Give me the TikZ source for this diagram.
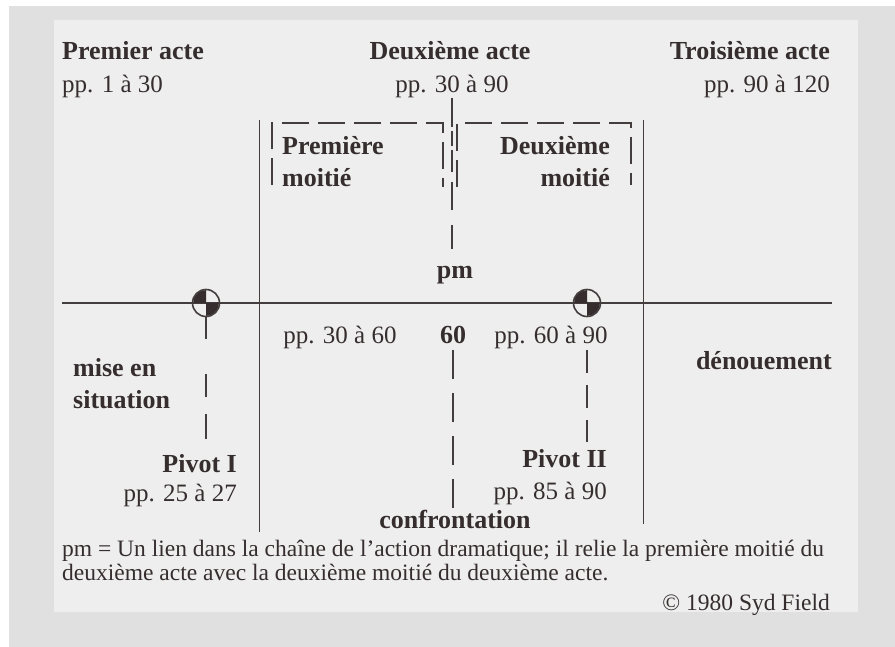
\documentclass[tikz,border=0pt]{standalone}
\usepackage{fontspec}
\setmainfont{Liberation Serif}
\definecolor{ink}{HTML}{362E2E}
\definecolor{lineink}{HTML}{433D3D}
\definecolor{outer}{HTML}{E0E0E0}
\definecolor{paper}{HTML}{EEEEEE}
\tikzset{
  lbl/.style={inner sep=0pt, text=ink, font=\fontsize{25}{32}\selectfont},
  bld/.style={inner sep=0pt, text=ink, font=\fontsize{26}{32}\selectfont\bfseries},
  note/.style={inner sep=0pt, text=ink, font=\fontsize{23.5}{24}\selectfont},
  thinline/.style={draw=lineink, line width=0.9pt},
  solidline/.style={draw=lineink, line width=1.8pt},
  bracketline/.style={draw=lineink, line width=1.8pt, dash pattern=on 27pt off 9pt},
  pivot/.style={circle, draw=lineink, line width=1.6pt, minimum size=27pt, inner sep=0pt},
}
\begin{document}
\begin{tikzpicture}[x=1pt,y=-1pt]
\useasboundingbox (0,0) rectangle (895,647);
% background
\fill[white] (0,0) rectangle (895,647);
\fill[outer] (9,6) rectangle (895,647);
\fill[paper] (54,20) rectangle (858,612);

% top headings
\node[bld, anchor=base west] (a1) at (62,60) {Premier acte};
\node[lbl, anchor=base west] (a1p) at (62,93) {pp. 1 à 30};
\node[bld, anchor=base] (a2) at (450,60) {Deuxième acte};
\node[lbl, anchor=base] (a2p) at (452,93) {pp. 30 à 90};
\node[bld, anchor=base east] (a3) at (830,60) {Troisième acte};
\node[lbl, anchor=base east] (a3p) at (830,93) {pp. 90 à 120};

% half boxes (base = last line)
\node[bld, anchor=base west, align=left] (h1) at (282,187) {Première\\moitié};
\node[bld, anchor=base east, align=right] (h2) at (610,187) {Deuxième\\moitié};
\draw[bracketline] (272,185) -- (272,123) -- (443,123) -- (443,187);
\draw[bracketline] (457,187) -- (457,123) -- (631,123) -- (631,185);

% central link
\node[bld, anchor=base] (pm) at (455,279) {pm};
\coordinate (c0) at (452,98);
\coordinate (c1) at (452,127);
\coordinate (c2) at (452,131);
\coordinate (c3) at (452,249);
\draw[solidline] (c0) -- (c1);
\draw[solidline, dash pattern=on 15pt off 4pt on 22pt off 10pt on 28pt off 15pt on 26pt off 10pt] (c2) -- (c3);

% act boundaries
\coordinate (v1t) at (259,120);
\coordinate (v1b) at (259,532);
\coordinate (v2t) at (643,120);
\coordinate (v2b) at (643,524);
\draw[thinline] (v1t) -- (v1b);
\draw[thinline] (v2t) -- (v2b);

% time line
\coordinate (hl) at (62,303);
\coordinate (hr) at (832,303);
\draw[thinline, line width=1.1pt] (hl) -- (hr);

% pivots
\coordinate (p1c) at (206,303);
\coordinate (p2c) at (587,303);
\fill[ink] (p1c) -- ++(-13,0) arc[start angle=180, end angle=270, radius=13] -- cycle;
\fill[ink] (p1c) -- ++(13,0) arc[start angle=0, end angle=90, radius=13] -- cycle;
\fill[ink] (p2c) -- ++(-13,0) arc[start angle=180, end angle=270, radius=13] -- cycle;
\fill[ink] (p2c) -- ++(13,0) arc[start angle=0, end angle=90, radius=13] -- cycle;
\node[pivot] (p1) at (p1c) {};
\node[pivot] (p2) at (p2c) {};

% lower labels
\node[lbl, anchor=base] (q1) at (340,344) {pp. 30 à 60};
\node[bld, anchor=base] (mid) at (453,344) {60};
\node[lbl, anchor=base] (q2) at (551,344) {pp. 60 à 90};
\node[bld, anchor=base west, align=left] (mes) at (73,408) {mise en\\situation};
\node[bld, anchor=base east] (den) at (832,370) {dénouement};
\node[bld, anchor=base east] (pv1) at (237,472) {Pivot I};
\node[lbl, anchor=base east] (pv1p) at (237,501) {pp. 25 à 27};
\node[bld, anchor=base east] (pv2) at (607,467) {Pivot II};
\node[lbl, anchor=base east] (pv2p) at (607,499) {pp. 85 à 90};
\node[bld, anchor=base] (conf) at (455,528) {confrontation};

% pivot and midpoint lines
\coordinate (p1e) at (206,440);
\draw[solidline, dash pattern=on 22pt off 35pt on 23pt off 17pt on 25pt off 10pt] (p1.south) -- (p1e);
\coordinate (p2s) at (587,350);
\coordinate (p2e) at (587,442);
\draw[solidline, dash pattern=on 23pt off 12pt] (p2s) -- (p2e);
\coordinate (m1) at (453,350);
\coordinate (m2) at (453,508);
\draw[solidline, dash pattern=on 29pt off 14pt] (m1) -- (m2);

% footnote (base = last line)
\node[note, anchor=base west, align=left] (fn) at (62,580) {pm = Un lien dans la chaîne de l’action dramatique; il relie la première moitié du\\deuxième acte avec la deuxième moitié du deuxième acte.};
\node[note, anchor=base east] (cr) at (830,610) {© 1980 Syd Field};
\end{tikzpicture}
\end{document}
